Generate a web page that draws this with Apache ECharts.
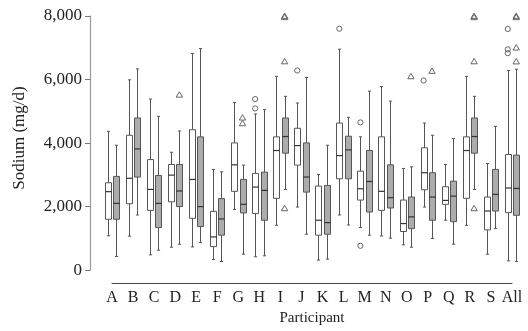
<!DOCTYPE html>
<html><head><meta charset="utf-8">
<script src="https://cdn.jsdelivr.net/npm/echarts@6/dist/echarts.min.js"></script>
<style>html,body{margin:0;padding:0;background:#fff}#c{width:528px;height:331px}</style>
</head><body><div id="c"></div>
<script>
const categories = ['A','B','C','D','E','F','G','H','I','J','K','L','M','N','O','P','Q','R','S','All'];
// [min, Q1, median, Q3, max] — white (first) boxes
const whiteBoxes = [
  [1080, 1600, 2470, 2750, 4370],
  [1070, 2090, 2890, 4245, 5990],
  [480, 1880, 2540, 3480, 5385],
  [720, 2150, 2990, 3325, 3710],
  [730, 1630, 2855, 4420, 6820],
  [335, 740, 1045, 1850, 3170],
  [1910, 2480, 3315, 4005, 5280],
  [420, 1780, 2615, 3045, 4915],
  [1410, 2260, 3765, 4195, 6100],
  [1985, 3305, 3920, 4465, 5260],
  [315, 1100, 1570, 2645, 3010],
  [1735, 2875, 3605, 4630, 6955],
  [1340, 2205, 2560, 3115, 4195],
  [1075, 1880, 2480, 4195, 5780],
  [795, 1215, 1465, 2205, 3200],
  [1985, 2530, 3065, 3850, 4630],
  [1570, 2070, 2195, 2625, 3325],
  [1410, 2260, 3765, 4195, 6100],
  [500, 1265, 1860, 2300, 3355],
  [290, 1810, 2585, 3640, 6285]
];
// [min, Q1, median, Q3, max] — grey (second) boxes
const greyBoxes = [
  [430, 1600, 2100, 2950, 3930],
  [1735, 2930, 3815, 4790, 6335],
  [625, 1340, 2100, 2980, 4840],
  [815, 2000, 2490, 3325, 4380],
  [870, 1370, 2000, 4195, 6975],
  [270, 1100, 1610, 2250, 3095],
  [500, 1800, 2070, 2855, 3305],
  [450, 1570, 2510, 3085, 5050],
  [2540, 3680, 4205, 4790, 5470],
  [1130, 2455, 2930, 4005, 6065],
  [345, 1130, 1495, 2665, 3930],
  [1420, 2875, 3785, 4215, 4810],
  [1100, 1830, 2790, 3765, 5635],
  [1005, 1955, 2280, 3315, 5320],
  [720, 1305, 1675, 2300, 3250],
  [995, 1570, 2300, 3065, 4245],
  [815, 1525, 2330, 2800, 4140],
  [2540, 3680, 4205, 4790, 5470],
  [1305, 1860, 2385, 3170, 4525],
  [270, 1725, 2570, 3620, 6325]
];
// outliers: [category, value]
const whiteOutliers = [
  ['H', 5385], ['H', 5090], ['J', 6285], ['L', 7600], ['M', 4650], ['M', 765],
  ['P', 5970], ['All', 7590], ['All', 6950], ['All', 6830]
];
const greyOutliers = [
  ['D', 5520], ['G', 4800], ['G', 4620],
  ['I', 8000], ['I', 7960], ['I', 6570], ['I', 1945],
  ['O', 6100], ['P', 6270],
  ['R', 8000], ['R', 7960], ['R', 6570], ['R', 1945],
  ['All', 8000], ['All', 7960], ['All', 7005], ['All', 6567]
];
const yTicks = [0, 2000, 4000, 6000, 8000];

const STROKE = '#555';
const SERIF = "'Liberation Serif', 'DejaVu Serif', serif";

function boxRenderer(side, fill) {
  return function (params, api) {
    const i = api.value(0);
    const band = api.size([1, 0])[0];
    const cx = Math.round(api.coord([i, 0])[0] + side * band * 0.2) + 0.5;
    const y = [1, 2, 3, 4, 5].map(k => api.coord([i, api.value(k)])[1]);
    const hw = 3, cw = 1.6;
    const ls = { stroke: STROKE, lineWidth: 1, fill: null };
    return {
      type: 'group',
      children: [
        { type: 'line', shape: { x1: cx, y1: y[4], x2: cx, y2: y[3] }, style: ls },
        { type: 'line', shape: { x1: cx, y1: y[1], x2: cx, y2: y[0] }, style: ls },
        { type: 'line', shape: { x1: cx - cw, y1: y[4], x2: cx + cw, y2: y[4] }, style: ls },
        { type: 'line', shape: { x1: cx - cw, y1: y[0], x2: cx + cw, y2: y[0] }, style: ls },
        { type: 'rect', shape: { x: cx - hw, y: y[3], width: 2 * hw, height: y[1] - y[3] },
          style: { fill: fill, stroke: STROKE, lineWidth: 1 } },
        { type: 'line', shape: { x1: cx - hw, y1: y[2], x2: cx + hw, y2: y[2] },
          style: { stroke: '#333', lineWidth: 1.2 } }
      ]
    };
  };
}

function outlierRenderer(side, shape) {
  return function (params, api) {
    const i = api.value(0);
    const band = api.size([1, 0])[0];
    const p = api.coord([i, api.value(1)]);
    const cx = p[0] + side * band * 0.2, cy = p[1];
    const st = { fill: 'none', stroke: '#666', lineWidth: 1 };
    if (shape === 'circle') {
      return { type: 'circle', shape: { cx: cx, cy: cy, r: 2.6 }, style: st };
    }
    return { type: 'polygon', shape: { points: [[cx, cy - 3], [cx + 3.2, cy + 2.4], [cx - 3.2, cy + 2.4]] }, style: st };
  };
}

const idx = c => categories.indexOf(c);

const chart = echarts.init(document.getElementById('c'), null, { renderer: 'canvas' });
chart.setOption({
  animation: false,
  backgroundColor: '#fff',
  grid: { left: 112, right: 16, top: 16, bottom: 60, containLabel: false },
  xAxis: {
    type: 'category',
    data: categories,
    boundaryGap: false,
    offset: 13,
    axisLine: { show: true, onZero: false, lineStyle: { color: '#444', width: 1 } },
    axisTick: { show: false },
    axisLabel: { fontFamily: SERIF, fontSize: 16, color: '#222', margin: 7, interval: 0 },
    name: 'Participant',
    nameLocation: 'middle',
    nameGap: 27,
    nameTextStyle: { fontFamily: SERIF, fontSize: 15, color: '#222' },
    splitLine: { show: false }
  },
  yAxis: {
    type: 'value',
    min: yTicks[0],
    max: yTicks[yTicks.length - 1],
    interval: yTicks[1] - yTicks[0],
    offset: 22,
    axisLine: { show: true, lineStyle: { color: '#999', width: 1.2 } },
    axisTick: { show: true, length: 5, lineStyle: { color: '#777' } },
    axisLabel: { fontFamily: SERIF, fontSize: 17, color: '#222', margin: 8,
      formatter: v => v.toLocaleString('en-US') },
    splitLine: { show: false },
    name: 'Sodium (mg/d)',
    nameLocation: 'middle',
    nameRotate: 90,
    nameGap: 62,
    nameTextStyle: { fontFamily: SERIF, fontSize: 17, color: '#222', padding: [0, 0, 0, 10] }
  },
  series: [
    { type: 'custom', renderItem: boxRenderer(-1, '#fff'),
      data: whiteBoxes.map((b, i) => [i].concat(b)), encode: { x: 0, y: [1, 2, 3, 4, 5] } },
    { type: 'custom', renderItem: boxRenderer(1, '#acacac'),
      data: greyBoxes.map((b, i) => [i].concat(b)), encode: { x: 0, y: [1, 2, 3, 4, 5] } },
    { type: 'custom', renderItem: outlierRenderer(-1, 'circle'),
      data: whiteOutliers.map(o => [idx(o[0]), o[1]]), encode: { x: 0, y: 1 } },
    { type: 'custom', renderItem: outlierRenderer(1, 'triangle'),
      data: greyOutliers.map(o => [idx(o[0]), o[1]]), encode: { x: 0, y: 1 } }
  ]
});
</script>
</body></html>
